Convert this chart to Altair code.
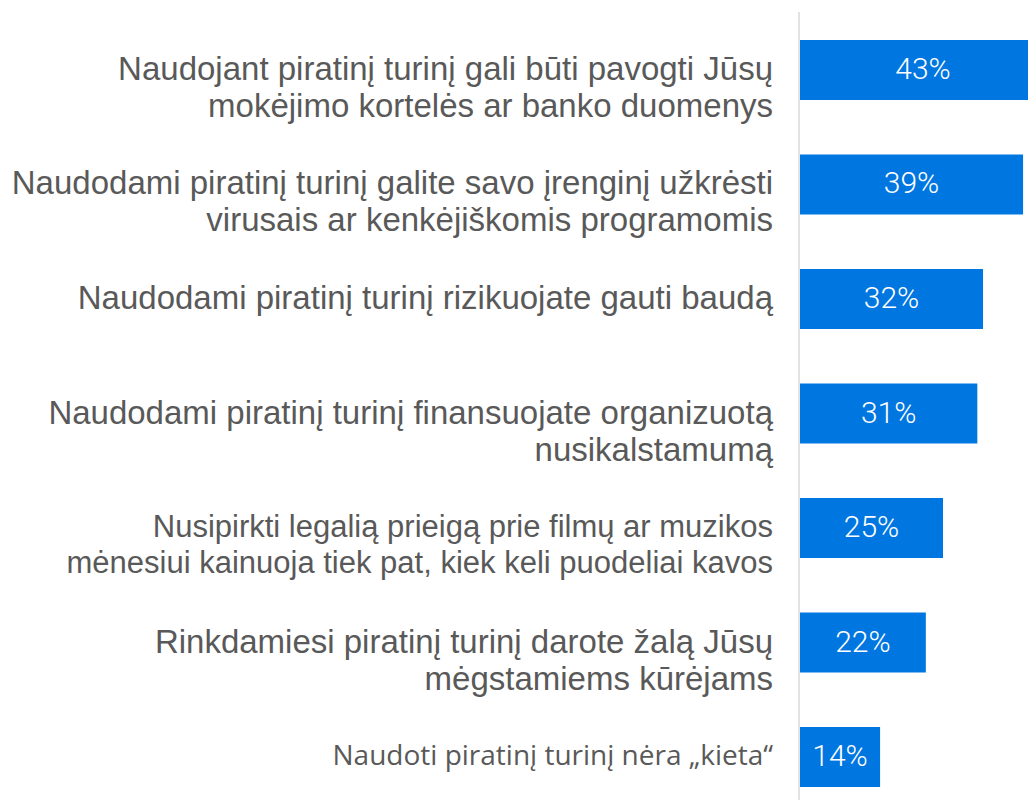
import altair as alt
import pandas as pd

labels = [
    "Naudojant piratinį turinį gali būti pavogti Jūsų\nmokėjimo kortelės ar banko duomenys",
    "Naudodami piratinį turinį galite savo įrenginį užkrėsti\nvirusais ar kenkėjiškomis programomis",
    "Naudodami piratinį turinį rizikuojate gauti baudą",
    "Naudodami piratinį turinį finansuojate organizuotą\nnusikalstamumą",
    "Nusipirkti legalią prieigą prie filmų ar muzikos \nmėnesiui kainuoja tiek pat, kiek keli puodeliai kavos",
    "Rinkdamiesi piratinį turinį darote žalą Jūsų\nmėgstamiems kūrėjams",
    "Naudoti piratinį turinį nėra „kieta“",
]
values = [43, 39, 32, 31, 25, 22, 14]
value_text = ["43%", "39%", "32%", "31%", "25%", "22%", "14%"]
font_group = ["a", "a", "a", "a", "b", "a", "c"]

df = pd.DataFrame({
    "label": labels,
    "value": values,
    "vtext": value_text,
    "grp": font_group,
})

y_enc = alt.Y(
    "label:N",
    sort=labels,
    axis=None,
    scale=alt.Scale(paddingInner=0.476, paddingOuter=0.1135),
)
x_scale = alt.Scale(domain=[0, 39.86], nice=False, zero=True)

base = alt.Chart(df)

rule = base.transform_filter(f"datum.value == {values[0]}").mark_rule(
    color="#D9D9D9", strokeWidth=1.5
).encode(x=alt.value(-1), y=alt.value(-15), y2=alt.value(773))

bars = base.mark_bar(color="#0076E1", clip=True).encode(
    x=alt.X("value:Q", scale=x_scale, axis=None),
    y=y_enc,
)

bar_text = base.mark_text(
    color="white", font="Roboto", fontSize=30, fontWeight=300,
    align="center", baseline="middle",
).transform_calculate(mid="datum.value / 2").encode(
    x=alt.X("mid:Q", scale=x_scale, axis=None),
    y=y_enc,
    text="vtext:N",
)

def cat_layer(grp, font, size, line_h):
    return base.transform_filter(f"datum.grp == '{grp}'").mark_text(
        font=font, fontSize=size, color="#595959", align="right",
        baseline="middle", lineBreak="\n", lineHeight=line_h,
    ).encode(x=alt.value(-27), y=y_enc, text="label:N")

cats_a = cat_layer("a", "Liberation Sans", 33, 37)
cats_b = cat_layer("b", "Liberation Sans", 31, 36)
cats_c = cat_layer("c", "Open Sans", 28, 34)

chart = alt.layer(rule, bars, bar_text, cats_a, cats_b, cats_c).properties(
    width=228,
    height=773,
    background="white",
    autosize=alt.AutoSizeParams(type="none"),
    padding={"left": 792, "top": 19, "right": 0, "bottom": 0},
).configure_view(strokeWidth=0, stroke="transparent")

chart.save("out.html", embed_options={"renderer": "svg", "actions": False})
